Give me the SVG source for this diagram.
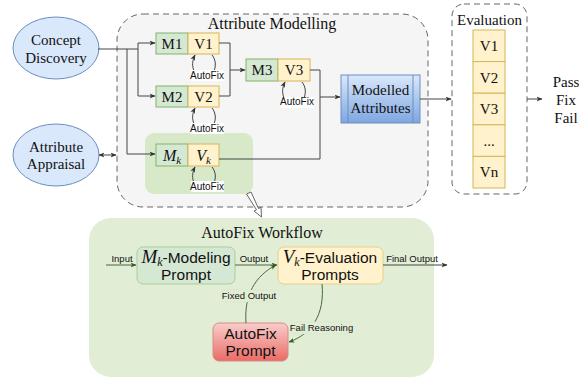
<svg xmlns="http://www.w3.org/2000/svg" width="587" height="379" viewBox="0 0 587 379">
<style>
.serif{font-family:"Liberation Serif","Times New Roman",serif;fill:#111}
.sans{font-family:"Liberation Sans",Arial,sans-serif;fill:#111}
.ln{fill:none;stroke:#444;stroke-width:1}
.gl{fill:none;stroke:#4a6a3a;stroke-width:1}
.mbox{fill:#d5e8d4;stroke:#82b366;stroke-width:1}
.vbox{fill:#fff2cc;stroke:#d6b656;stroke-width:1}
.t15{font-size:15px;text-anchor:middle}
.af{font-size:10px;text-anchor:middle}
.lbl{font-size:9.5px;text-anchor:middle}
</style>
<defs>
<marker id="ah" viewBox="0 0 10 10" refX="9" refY="5" markerWidth="6" markerHeight="6" orient="auto-start-reverse" markerUnits="userSpaceOnUse">
<path d="M0 1 L10 5 L0 9 L2.5 5 Z" fill="#333"/>
</marker>
<marker id="ahg" viewBox="0 0 10 10" refX="9" refY="5" markerWidth="6" markerHeight="6" orient="auto" markerUnits="userSpaceOnUse">
<path d="M0 1 L10 5 L0 9 L2.5 5 Z" fill="#3a5a2a"/>
</marker>
<linearGradient id="blue" x1="0" y1="0" x2="0" y2="1">
<stop offset="0" stop-color="#dae8fc"/><stop offset="1" stop-color="#7ea6e0"/>
</linearGradient>
<linearGradient id="red" x1="0" y1="0" x2="0" y2="1">
<stop offset="0" stop-color="#f8cecc"/><stop offset="1" stop-color="#ea6b66"/>
</linearGradient>
</defs>

<g id="attribute-modelling">
<rect x="117" y="14" width="311" height="193" rx="26" fill="#f5f5f5" stroke="#666" stroke-dasharray="6 4"/>
<text class="serif" x="272" y="29" font-size="16" text-anchor="middle">Attribute Modelling</text>
</g>

<g id="mk-group">
<rect x="145" y="133" width="108" height="61" rx="9" fill="#d5e8c4" opacity="0.9"/>
</g>

<g id="evaluation">
<rect x="452" y="4" width="75" height="190" rx="12" fill="#fff" stroke="#666" stroke-dasharray="6 4"/>
<text class="serif" x="489.5" y="25" font-size="15" text-anchor="middle">Evaluation</text>
<rect class="vbox" x="473" y="30" width="32" height="31.6"/>
<rect class="vbox" x="473" y="61.6" width="32" height="31.6"/>
<rect class="vbox" x="473" y="93.2" width="32" height="31.6"/>
<rect class="vbox" x="473" y="124.8" width="32" height="31.6"/>
<rect class="vbox" x="473" y="156.4" width="32" height="31.6"/>
<text class="serif t15" x="489" y="51">V1</text>
<text class="serif t15" x="489" y="83">V2</text>
<text class="serif t15" x="489" y="114">V3</text>
<text class="serif t15" x="489" y="146">...</text>
<text class="serif t15" x="489" y="177">Vn</text>
</g>

<g id="concept-discovery">
<ellipse cx="56" cy="48" rx="43" ry="31" fill="#dae8fc" stroke="#6c8ebf"/>
<text class="serif t15" x="56" y="45">Concept</text>
<text class="serif t15" x="56" y="63">Discovery</text>
</g>

<g id="attribute-appraisal">
<ellipse cx="56" cy="155" rx="43" ry="31" fill="#dae8fc" stroke="#6c8ebf"/>
<text class="serif t15" x="56" y="152">Attribute</text>
<text class="serif t15" x="56" y="169">Appraisal</text>
</g>

<g id="m1v1">
<rect class="mbox" x="156" y="33" width="32" height="21"/>
<rect class="vbox" x="188" y="33" width="31" height="21"/>
<text class="serif t15" x="172" y="49">M1</text>
<text class="serif t15" x="203.5" y="49">V1</text>
</g>
<g id="m2v2">
<rect class="mbox" x="156" y="86" width="32" height="21"/>
<rect class="vbox" x="188" y="86" width="31" height="21"/>
<text class="serif t15" x="172" y="102">M2</text>
<text class="serif t15" x="203.5" y="102">V2</text>
</g>
<g id="m3v3">
<rect class="mbox" x="246" y="59" width="32" height="22"/>
<rect class="vbox" x="278" y="59" width="32" height="22"/>
<text class="serif t15" x="262" y="75">M3</text>
<text class="serif t15" x="294" y="75">V3</text>
</g>
<g id="mkvk">
<rect class="mbox" x="156" y="144" width="32" height="22"/>
<rect class="vbox" x="188" y="144" width="31" height="22"/>
<text class="serif" x="172" y="161" font-size="16" text-anchor="middle"><tspan font-style="italic">M</tspan><tspan font-style="italic" font-size="11" dy="3">k</tspan></text>
<text class="serif" x="203.5" y="161" font-size="16" text-anchor="middle"><tspan font-style="italic">V</tspan><tspan font-style="italic" font-size="11" dy="3">k</tspan></text>
</g>

<g id="modelled-attributes">
<rect x="341" y="75" width="79" height="48" fill="url(#blue)" stroke="#6c8ebf"/>
<line x1="348" y1="75" x2="348" y2="123" stroke="#6c8ebf"/>
<line x1="413" y1="75" x2="413" y2="123" stroke="#6c8ebf"/>
<text class="serif t15" x="380.5" y="95">Modelled</text>
<text class="serif t15" x="380.5" y="113">Attributes</text>
</g>

<g id="outcomes">
<text class="serif t15" x="566" y="87">Pass</text>
<text class="serif t15" x="566" y="105">Fix</text>
<text class="serif t15" x="566" y="123">Fail</text>
</g>

<g id="autofix-workflow">
<rect x="89" y="218" width="345" height="159" rx="22" fill="#e1edd5"/>
<text class="serif" x="262" y="238" font-size="16" text-anchor="middle">AutoFix Workflow</text>
</g>
<g id="modeling-prompt">
<rect x="137" y="247" width="98" height="37" rx="6" fill="#d5e8d4" stroke="#a9cf98"/>
<text class="sans" x="186" y="263" font-size="15.5" text-anchor="middle"><tspan class="serif" font-style="italic" font-size="19">M</tspan><tspan class="serif" font-style="italic" font-size="12" dy="3">k</tspan><tspan dy="-3">-Modeling</tspan></text>
<text class="sans" x="186" y="280" font-size="15.5" text-anchor="middle">Prompt</text>
</g>
<g id="evaluation-prompts">
<rect x="278" y="247" width="105" height="37" rx="6" fill="#fff2cc" stroke="#e6d08a"/>
<text class="sans" x="330" y="263" font-size="15.5" text-anchor="middle"><tspan class="serif" font-style="italic" font-size="19">V</tspan><tspan class="serif" font-style="italic" font-size="12" dy="3">k</tspan><tspan dy="-3">-Evaluation</tspan></text>
<text class="sans" x="330" y="280" font-size="15.5" text-anchor="middle">Prompts</text>
</g>
<g id="autofix-prompt">
<rect x="213" y="323" width="75" height="38" rx="6" fill="url(#red)" stroke="#d88a87"/>
<text class="sans" x="250.5" y="339" font-size="15.5" text-anchor="middle">AutoFix</text>
<text class="sans" x="250.5" y="356" font-size="15.5" text-anchor="middle">Prompt</text>
</g>

<g id="connectors">
<path class="ln" d="M98 49 H138 V43 H155" marker-end="url(#ah)"/>
<path class="ln" d="M138 49 V96 H155" marker-end="url(#ah)"/>
<path class="ln" d="M127 49 V154 H155" marker-end="url(#ah)"/>
<path class="ln" d="M219 43 H230 V96 H219"/>
<path class="ln" d="M230 70 H245" marker-end="url(#ah)"/>
<path class="ln" d="M310 70 H320 V97 H340" marker-end="url(#ah)"/>
<path class="ln" d="M219 159 H320 V97"/>
<path class="ln" d="M420 99 H451" marker-end="url(#ah)"/>
<path class="ln" d="M527 99 H542" marker-end="url(#ah)"/>
<path class="ln" d="M99 155 H116" marker-start="url(#ah)" marker-end="url(#ah)"/>
<!-- autofix loops -->
<path class="ln" d="M212 55 C216 60 216 66 214 71"/>
<path class="ln" d="M194 71 C192 66 192 61 195 55" marker-end="url(#ah)"/>
<path class="ln" d="M212 108 C216 113 216 119 214 124"/>
<path class="ln" d="M194 124 C192 119 192 114 195 108" marker-end="url(#ah)"/>
<path class="ln" d="M302 82 C306 87 306 93 304 98"/>
<path class="ln" d="M284 98 C282 93 282 88 285 82" marker-end="url(#ah)"/>
<path class="ln" d="M212 167 C216 172 216 178 214 183"/>
<path class="ln" d="M194 183 C192 178 192 173 195 167" marker-end="url(#ah)"/>
<rect x="191" y="70" width="33" height="11" fill="#fff"/>
<text class="sans af" x="207" y="79">AutoFix</text>
<rect x="191" y="123" width="33" height="11" fill="#fff"/>
<text class="sans af" x="207" y="132">AutoFix</text>
<rect x="281" y="97" width="33" height="11" fill="#fff"/>
<text class="sans af" x="297" y="105">AutoFix</text>
<rect x="191" y="181" width="33" height="11" fill="#fff"/>
<text class="sans af" x="207" y="190">AutoFix</text>
<!-- hollow arrow -->
<path d="M246.5 194 L251 192 L258.5 208.5 L261 207.3 L261.5 217 L254 211 L256.5 209.8 Z" fill="#fff" stroke="#555" stroke-width="0.9"/>
<!-- workflow -->
<path class="gl" d="M106 265 H136" marker-end="url(#ahg)"/>
<path class="gl" d="M235 265 H277" marker-end="url(#ahg)"/>
<path class="ln" d="M383 265 H447" marker-end="url(#ah)"/>
<path class="gl" d="M246 323 C244 295 255 276 276 265" marker-end="url(#ahg)"/>
<path class="gl" d="M322 284 C325 314 312 334 289 342" marker-end="url(#ahg)"/>
<text class="sans lbl" x="122" y="262">Input</text>
<text class="sans lbl" x="254" y="262">Output</text>
<text class="sans lbl" x="412" y="262">Final Output</text>
<rect x="223" y="290" width="51" height="12" fill="#e1edd5" stroke="#d5e3c6" stroke-width="0.5"/>
<text class="sans lbl" x="249" y="299">Fixed Output</text>
<rect x="292" y="322" width="59" height="12" fill="#e1edd5" stroke="#d5e3c6" stroke-width="0.5"/>
<text class="sans lbl" x="321.5" y="331">Fail Reasoning</text>
</g>
</svg>
